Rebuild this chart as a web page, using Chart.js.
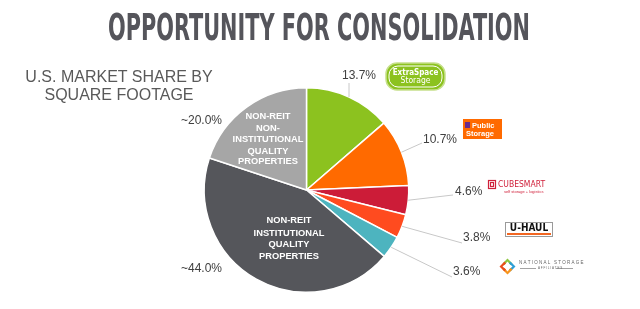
<!DOCTYPE html>
<html>
<head>
<meta charset="utf-8">
<script src="https://cdn.jsdelivr.net/npm/chart.js@4/dist/chart.umd.min.js"></script>
<style>
  html, body { margin: 0; padding: 0; background: #fff; }
  #wrap { position: relative; width: 640px; height: 309px; overflow: hidden; }
  #chart { position: absolute; left: 0; top: 0; }
  #titleText {
    position: absolute; left: 319px; top: 8px;
    font-family: 'DejaVu Sans Condensed', 'Liberation Sans', sans-serif;
    font-weight: bold; font-size: 38px; line-height: 38px; color: #55555b;
    white-space: nowrap; transform-origin: center;
  }
  #subtitle {
    position: absolute; left: 19px; top: 67.5px; width: 200px; text-align: center;
    font-family: 'Liberation Sans', Arial, sans-serif; font-size: 16px; line-height: 18px;
    color: #595959;
  }
</style>
</head>
<body>
<div id="wrap">
  <canvas id="chart" width="640" height="309"></canvas>
  <div id="titleText">OPPORTUNITY FOR CONSOLIDATION</div>
  <div id="subtitle">U.S. MARKET SHARE BY<br>SQUARE FOOTAGE</div>
</div>
<script>
// market share by square footage, clockwise from 12 o'clock
const categories = [
  'Extra Space Storage',
  'Public Storage',
  'CubeSmart',
  'U-Haul',
  'National Storage Affiliates',
  'Non-REIT Institutional Quality Properties',
  'Non-REIT Non-Institutional Quality Properties',
];
const shares = [13.7, 10.7, 4.6, 3.8, 3.6, 44.0, 20.0];
const shareLabels = ['13.7%', '10.7%', '4.6%', '3.8%', '3.6%', '~44.0%', '~20.0%'];
const sliceColors = ['#8cc21f', '#ff6a00', '#cc1c38', '#ff4b1f', '#4db4bf', '#55565b', '#a6a6a6'];
const innerLines = [
  null, null, null, null, null,
  ['NON-REIT', 'INSTITUTIONAL', 'QUALITY', 'PROPERTIES'],
  ['NON-REIT', 'NON-', 'INSTITUTIONAL', 'QUALITY', 'PROPERTIES'],
];

// label layout: text anchor and leader end (null = no leader)
const labelLayout = [
  { x: 342, y: 76, align: 'left', lead: [349, 83] },
  { x: 423, y: 140, align: 'left', lead: [422, 143] },
  { x: 455, y: 192, align: 'left', lead: [453, 195] },
  { x: 463, y: 238, align: 'left', lead: [462, 243] },
  { x: 453, y: 272, align: 'left', lead: [452, 277] },
  { x: 222, y: 269, align: 'right', lead: null },
  { x: 222, y: 121, align: 'right', lead: null },
];
const innerLayout = [
  null, null, null, null, null,
  { x: 289, ys: [220, 233, 244, 256] },
  { x: 268, ys: [116, 128, 139, 151, 161] },
];

// squeeze title to its width, centred on x=319
(function () {
  const t = document.getElementById('titleText');
  const w = t.getBoundingClientRect().width;
  t.style.transform = `translateX(-50%) scaleX(${422 / w})`;
})();

function drawLogos(ctx) {
  const narrow = "'DejaVu Sans Condensed', 'Liberation Sans', sans-serif";
  ctx.save();
  // Extra Space Storage badge
  ctx.beginPath();
  ctx.roundRect(386, 63, 59, 27, 11);
  ctx.fillStyle = '#8cc21f';
  ctx.fill();
  ctx.lineWidth = 1.5;
  ctx.strokeStyle = '#c6e08c';
  ctx.stroke();
  ctx.beginPath();
  ctx.roundRect(389, 66, 53, 21, 9);
  ctx.lineWidth = 1;
  ctx.strokeStyle = '#ffffff';
  ctx.stroke();
  ctx.fillStyle = '#ffffff';
  ctx.textAlign = 'center';
  ctx.textBaseline = 'middle';
  ctx.font = `bold 8px ${narrow}`;
  ctx.fillText('ExtraSpace', 415.5, 72.5);
  ctx.font = `8.5px ${narrow}`;
  ctx.fillText('Storage', 415.5, 81);

  // Public Storage
  ctx.fillStyle = '#ff6a00';
  ctx.fillRect(463, 119, 39, 20);
  ctx.fillStyle = '#6a2c8c';
  ctx.fillRect(465, 122, 5, 6);
  ctx.fillStyle = '#ffffff';
  ctx.textAlign = 'left';
  ctx.font = "bold 7.5px 'Liberation Sans', sans-serif";
  ctx.fillText('Public', 472, 125.5);
  ctx.fillText('Storage', 466, 134);

  // CubeSmart
  ctx.strokeStyle = '#d0203a';
  ctx.lineWidth = 1.2;
  ctx.strokeRect(488.5, 180.5, 7, 8);
  ctx.strokeRect(490.5, 182.5, 3, 4);
  ctx.fillStyle = '#d0203a';
  ctx.font = `8.5px ${narrow}`;
  ctx.fillText('CUBESMART', 498, 185);
  ctx.font = "4px 'Liberation Sans', sans-serif";
  ctx.fillText('self storage + logistics', 504, 192);

  // U-Haul
  ctx.fillStyle = '#ffffff';
  ctx.fillRect(505, 222, 48, 15);
  ctx.strokeStyle = '#9a9a9a';
  ctx.lineWidth = 1;
  ctx.strokeRect(505.5, 222.5, 47, 14);
  ctx.fillStyle = '#f26722';
  ctx.fillRect(507, 233, 44, 2);
  ctx.fillStyle = '#111111';
  ctx.textAlign = 'center';
  ctx.font = `bold 10px ${narrow}`;
  ctx.fillText('U-HAUL', 529, 228);

  // National Storage Affiliates: four chevrons pointing outward
  const cx = 507.5, cy = 266.5;
  const arrows = [['#8cc63f', 0, -1], ['#2f9fd6', 1, 0], ['#f7941d', 0, 1], ['#e94e1b', -1, 0]];
  arrows.forEach(([c, dx, dy]) => {
    const px = -dy, py = dx;
    ctx.beginPath();
    ctx.moveTo(cx + dx * 3 + px * 5, cy + dy * 3 + py * 5);
    ctx.lineTo(cx + dx * 8, cy + dy * 8);
    ctx.lineTo(cx + dx * 3 - px * 5, cy + dy * 3 - py * 5);
    ctx.lineTo(cx + dx * 1.5 - px * 3, cy + dy * 1.5 - py * 3);
    ctx.lineTo(cx + dx * 5, cy + dy * 5);
    ctx.lineTo(cx + dx * 1.5 + px * 3, cy + dy * 1.5 + py * 3);
    ctx.closePath();
    ctx.fillStyle = c;
    ctx.fill();
  });
  ctx.fillStyle = '#666666';
  ctx.textAlign = 'left';
  ctx.font = "4.5px 'Liberation Sans', sans-serif";
  ctx.fillText('N A T I O N A L   S T O R A G E', 519, 263);
  ctx.font = "3px 'Liberation Sans', sans-serif";
  ctx.fillText('A F F I L I A T E S', 538, 268.5);
  ctx.fillRect(520, 268, 16, 0.6);
  ctx.fillRect(556, 268, 17, 0.6);
  ctx.restore();
}

const labelPlugin = {
  id: 'sliceLabels',
  afterDatasetsDraw(chart) {
    const ctx = chart.ctx;
    const arcs = chart.getDatasetMeta(0).data;
    ctx.save();
    arcs.forEach((arc, i) => {
      const lay = labelLayout[i];
      const p = arc.getProps(['x', 'y', 'startAngle', 'endAngle', 'outerRadius'], true);
      const mid = (p.startAngle + p.endAngle) / 2;
      if (lay.lead) {
        ctx.beginPath();
        ctx.moveTo(p.x + Math.cos(mid) * p.outerRadius, p.y + Math.sin(mid) * p.outerRadius);
        ctx.lineTo(lay.lead[0], lay.lead[1]);
        ctx.strokeStyle = '#c8c8c8';
        ctx.lineWidth = 1;
        ctx.stroke();
      }
      ctx.fillStyle = '#404040';
      ctx.font = "12px 'Liberation Sans', Arial, sans-serif";
      ctx.textAlign = lay.align;
      ctx.textBaseline = 'middle';
      ctx.fillText(shareLabels[i], lay.x, lay.y);

      const inner = innerLayout[i];
      if (inner) {
        ctx.fillStyle = '#ffffff';
        ctx.font = "bold 9.3px 'Liberation Sans', Arial, sans-serif";
        ctx.textAlign = 'center';
        innerLines[i].forEach((line, k) => ctx.fillText(line, inner.x, inner.ys[k]));
      }
    });
    ctx.restore();
    drawLogos(ctx);
  },
};

new Chart(document.getElementById('chart'), {
  type: 'pie',
  data: {
    labels: categories,
    datasets: [{
      data: shares,
      backgroundColor: sliceColors,
      borderColor: '#ffffff',
      borderWidth: 1.5,
    }],
  },
  options: {
    responsive: false,
    animation: false,
    devicePixelRatio: 1,
    layout: { padding: { left: 203.5, right: 230.5, top: 87, bottom: 16 } },
    plugins: {
      legend: { display: false },
      tooltip: { enabled: false },
      title: { display: false },
    },
  },
  plugins: [labelPlugin],
});
</script>
</body>
</html>
